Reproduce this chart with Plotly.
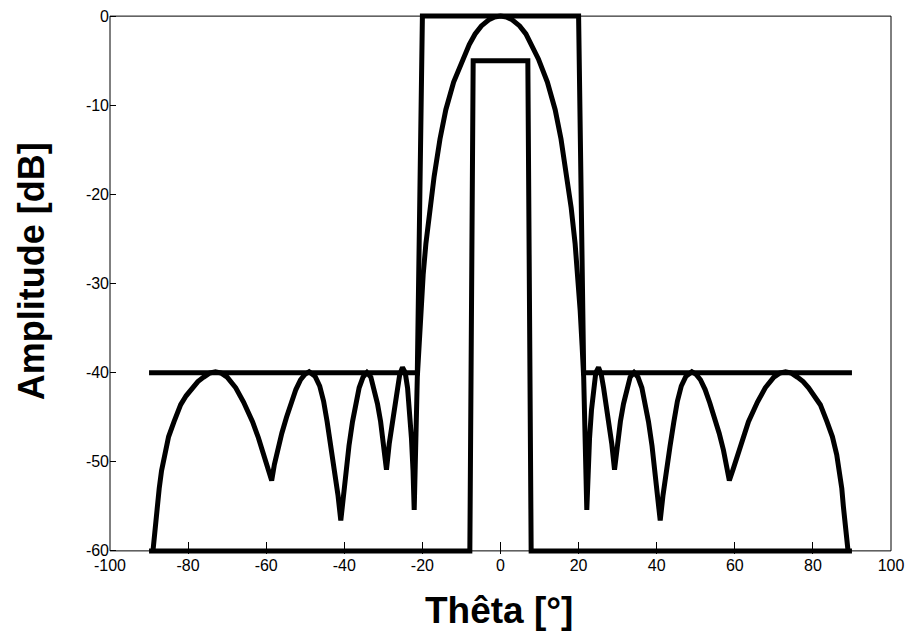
import plotly.graph_objects as go

# ---- data ----
# array-factor pattern (theta in degrees, amplitude in dB)
theta_af = [
    -89.0, -88.6, -88.3, -87.8, -87.4, -86.8, -86.1, -85.0, -83.6, -81.9, -80.5, -78.9, -77.5, -76.0,
    -74.5, -73.0, -71.5, -70.0, -67.8, -65.8, -63.5, -62.0, -60.7, -59.6, -58.6,
    -57.9, -57.1, -56.0, -54.8, -53.6, -52.4, -51.2, -50.1, -49.0,
    -47.5, -46.3, -45.3, -44.4, -43.4, -42.4, -41.6, -40.9,
    -40.2, -39.6, -38.8, -37.9, -37.0, -36.2, -35.2, -34.2, -33.2, -32.4, -31.5, -30.7, -29.9, -29.2,
    -28.5, -27.7, -27.0, -26.4, -25.8, -25.1, -24.4, -23.8, -23.3, -22.8, -22.4, -22.1,
    -21.3, -20.9, -20.4, -19.8, -19.1, -18.1, -17.0, -15.5, -14.0, -12.0, -9.7, -8.0, -6.5, -4.9, -3.0, -1.5,
    0.0,
    1.5, 3.0, 4.9, 6.5, 8.0, 9.7, 12.0, 14.0, 15.5, 17.0, 18.1, 19.1, 19.8, 20.4, 20.9, 21.3,
    22.1, 22.4, 22.8, 23.3, 23.8, 24.4, 25.1, 25.8, 26.4, 27.0, 27.7, 28.5,
    29.2, 29.9, 30.7, 31.5, 32.4, 33.2, 34.2, 35.2, 36.2, 37.0, 37.9, 38.8, 39.6, 40.2,
    40.9, 41.6, 42.4, 43.4, 44.4, 45.3, 46.3, 47.5,
    49.0, 50.1, 51.2, 52.4, 53.6, 54.8, 56.0, 57.1, 57.9,
    58.6, 59.6, 60.7, 62.0, 63.5, 65.8, 67.8, 70.0, 71.5, 73.0,
    74.5, 76.0, 77.5, 78.9, 80.5, 81.9, 83.6, 85.0, 86.1, 86.8, 87.4, 87.8, 88.3, 88.6, 89.0,
]
af_db = [
    -60.0, -58.0, -56.7, -55.0, -53.0, -51.0, -49.2, -47.2, -45.5, -43.6, -42.6, -41.7, -41.0, -40.5,
    -40.05, -39.9, -40.05, -40.5, -41.7, -43.3, -45.5, -47.3, -49.2, -50.8, -52.1,
    -50.3, -48.7, -46.8, -45.0, -43.4, -41.9, -40.8, -40.2, -39.9,
    -40.4, -41.5, -43.2, -45.5, -48.3, -51.1, -53.8, -56.6,
    -53.5, -51.1, -48.2, -45.5, -43.3, -41.7, -40.5, -40.0, -40.5, -41.7, -43.5, -45.5, -48.2, -50.9,
    -48.0, -45.5, -43.3, -41.7, -40.2, -39.4, -40.0, -41.7, -44.2, -47.4, -51.0, -55.4,
    -40.5, -37.0, -33.0, -29.0, -25.5, -21.5, -18.0, -13.8, -10.5, -7.4, -4.8, -3.2, -2.0, -1.1, -0.42, -0.1,
    0.0,
    -0.1, -0.42, -1.1, -2.0, -3.2, -4.8, -7.4, -10.5, -13.8, -18.0, -21.5, -25.5, -29.0, -33.0, -37.0, -40.5,
    -55.4, -51.0, -47.4, -44.2, -41.7, -40.0, -39.4, -40.2, -41.7, -43.3, -45.5, -48.0,
    -50.9, -48.2, -45.5, -43.5, -41.7, -40.5, -40.0, -40.5, -41.7, -43.3, -45.5, -48.2, -51.1, -53.5,
    -56.6, -53.8, -51.1, -48.3, -45.5, -43.2, -41.5, -40.4,
    -39.9, -40.2, -40.8, -41.9, -43.4, -45.0, -46.8, -48.7, -50.3,
    -52.1, -50.8, -49.2, -47.3, -45.5, -43.3, -41.7, -40.5, -40.05, -39.9,
    -40.05, -40.5, -41.0, -41.7, -42.6, -43.6, -45.5, -47.2, -49.2, -51.0, -53.0, -55.0, -56.7, -58.0, -60.0,
]

# upper mask
theta_upper = [-90, -21.3, -20, 20, 21.3, 90]
db_upper = [-40, -40, 0, 0, -40, -40]

# lower mask
theta_lower = [-90, -7.85, -7, 7, 7.85, 90]
db_lower = [-60, -60, -5, -5, -60, -60]

x_ticks = [-100, -80, -60, -40, -20, 0, 20, 40, 60, 80, 100]
x_labels = ["-100", "-80", "-60", "-40", "-20", "0", "20", "40", "60", "80", "100"]
y_ticks = [-60, -50, -40, -30, -20, -10, 0]
y_labels = ["-60", "-50", "-40", "-30", "-20", "-10", "0"]

# ---- figure ----
YMIN, YMAX = -60.35, 0.35
LW = 5

fig = go.Figure()
for xs, ys in [(theta_upper, db_upper), (theta_lower, db_lower), (theta_af, af_db)]:
    fig.add_trace(go.Scatter(x=xs, y=ys, mode="lines",
                             line=dict(color="black", width=LW),
                             showlegend=False, hoverinfo="skip"))

font = dict(family="Arial, Liberation Sans, sans-serif", color="black")

fig.update_layout(
    width=908, height=625,
    margin=dict(l=102, r=25, t=4.6, b=79.2, autoexpand=False),
    paper_bgcolor="white", plot_bgcolor="white",
    font=dict(size=16, **font),
    xaxis=dict(range=[-100, 100], tickvals=x_ticks, ticktext=x_labels,
               ticks="inside", ticklen=12, tickwidth=1, tickcolor="black",
               showline=False, showgrid=False, zeroline=False, automargin=False,
               ticklabeloverflow="allow",
               tickfont=dict(size=16, **font)),
    yaxis=dict(range=[YMIN, YMAX], tickvals=y_ticks, ticktext=y_labels,
               ticks="inside", ticklen=6, tickwidth=1, tickcolor="black",
               showline=False, showgrid=False, zeroline=False, automargin=False,
               ticklabeloverflow="allow",
               tickfont=dict(size=16, **font)),
)

def py(v):
    return (v - YMIN) / (YMAX - YMIN)

# frame of the axes box (from -60 to 0 in y)
fig.add_shape(type="rect", xref="paper", yref="paper",
              x0=0, x1=1, y0=py(-60), y1=py(0),
              line=dict(color="black", width=1), layer="below")

fig.add_annotation(text="<b>Amplitude [dB]</b>", xref="paper", yref="paper",
                   x=-0.1012, y=0.5225, xanchor="center", yanchor="middle",
                   textangle=-90, showarrow=False, font=dict(size=36, **font))
fig.add_annotation(text="<b>Thêta [°]</b>", xref="paper", yref="paper",
                   x=0.498, y=-0.1038, xanchor="center", yanchor="middle",
                   showarrow=False, font=dict(size=37, **font))

fig.write_html("out.html")
